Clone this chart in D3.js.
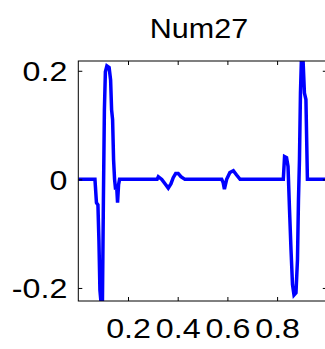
<!DOCTYPE html>
<html>
<head>
<meta charset="utf-8">
<script src="https://cdn.jsdelivr.net/npm/d3@7"></script>
<style>
  html, body { margin: 0; padding: 0; background: #fff; }
  svg { display: block; }
  text { font-family: "Liberation Sans", Arial, sans-serif; fill: #000; }
</style>
</head>
<body>
<svg id="chart" width="325" height="349"></svg>
<script>
// ---- data ----
const title = "Num27";
const xTicks = [0.2, 0.4, 0.6, 0.8];
const yTicks = [-0.2, 0, 0.2];
const sampleX = [
  0, 0.067, 0.073, 0.079, 0.083, 0.087, 0.093, 0.097, 0.101, 0.105, 0.109, 0.115, 0.124, 0.130, 0.134, 0.138, 0.142, 0.146, 0.150, 0.154, 0.158, 0.162, 0.166,
  0.317, 0.322, 0.336, 0.349, 0.362, 0.373, 0.382, 0.392, 0.402, 0.413, 0.429,
  0.577, 0.583, 0.588, 0.597, 0.610, 0.624, 0.637, 0.651,
  0.825, 0.830, 0.838, 0.844, 0.850, 0.856, 0.862, 0.868, 0.876, 0.882, 0.886, 0.890, 0.894, 0.898, 0.904, 0.910, 0.916, 0.922, 1.0
];
const sampleY = [
  0, 0, -0.043, -0.047, -0.112, -0.204, -0.235, -0.235, -0.038, 0.128, 0.198, 0.209, 0.206, 0.183, 0.128, 0.110, 0.036, 0, -0.019, -0.010, -0.043, -0.010, 0,
  0, 0.005, 0, -0.008, -0.016, -0.008, 0.003, 0.011, 0.011, 0.005, 0,
  0, -0.006, -0.018, 0, 0.0125, 0.016, 0.008, 0,
  0, 0.042, 0.040, 0.024, -0.056, -0.130, -0.194, -0.213, -0.209, -0.148, -0.038, 0.036, 0.159, 0.224, 0.224, 0.159, 0.147, 0, 0
];

(function () {
// ---- layout ----
const mLeft = 78.3, mRight = 326.8, mTop = 61, mBottom = 301;
const svg = d3.select("#chart");
const x = d3.scaleLinear().domain([0, 1]).range([mLeft, mRight]);
const y = d3.scaleLinear().domain([-0.224, 0.218]).range([mBottom, mTop]);
const fmt = d => d === 0 ? "0" : String(d);
const sx = 1.15;

svg.append("defs").append("clipPath").attr("id", "clip")
  .append("rect").attr("x", mLeft).attr("y", mTop).attr("width", mRight - mLeft).attr("height", mBottom - mTop);

// data line
const pts = sampleX.map((v, i) => [v, sampleY[i]]);
svg.append("path")
  .datum(pts)
  .attr("clip-path", "url(#clip)")
  .attr("fill", "none")
  .attr("stroke", "#0000ff")
  .attr("stroke-width", 3.5)
  .attr("stroke-linejoin", "miter")
  .attr("d", d3.line().x(d => x(d[0])).y(d => y(d[1])));

// frame
svg.append("rect")
  .attr("x", mLeft).attr("y", mTop).attr("width", mRight - mLeft).attr("height", mBottom - mTop)
  .attr("fill", "none").attr("stroke", "#000").attr("stroke-width", 1);

// axes
const gB = svg.append("g").attr("transform", `translate(0,${mBottom})`)
  .call(d3.axisBottom(x).tickValues(xTicks).tickFormat(fmt).tickSizeInner(-4).tickSizeOuter(0));
const gT = svg.append("g").attr("transform", `translate(0,${mTop})`)
  .call(d3.axisTop(x).tickValues(xTicks).tickFormat("").tickSizeInner(-4).tickSizeOuter(0));
const gL = svg.append("g").attr("transform", `translate(${mLeft},0)`)
  .call(d3.axisLeft(y).tickValues(yTicks).tickFormat(fmt).tickSizeInner(-4).tickSizeOuter(0));
const gR = svg.append("g").attr("transform", `translate(${mRight},0)`)
  .call(d3.axisRight(y).tickValues(yTicks).tickFormat("").tickSizeInner(-4).tickSizeOuter(0));

[gB, gT, gL, gR].forEach(g => {
  g.select(".domain").remove();
  g.selectAll(".tick line").attr("stroke", "#000");
});

gB.selectAll(".tick text")
  .attr("y", 37).attr("dy", 0)
  .attr("font-size", 28)
  .attr("font-family", "Liberation Sans, Arial, sans-serif")
  .attr("fill", "#000")
  .attr("transform", `scale(${sx},1)`);

gL.selectAll(".tick text")
  .attr("x", -11 / sx).attr("dy", "0.35em")
  .attr("font-size", 28)
  .attr("font-family", "Liberation Sans, Arial, sans-serif")
  .attr("fill", "#000")
  .attr("transform", `scale(${sx},1)`);

// title
svg.append("text")
  .attr("text-anchor", "middle")
  .attr("font-size", 28)
  .attr("transform", `translate(199,38) scale(1.09,1)`)
  .text(title);
})();
</script>
</body>
</html>
